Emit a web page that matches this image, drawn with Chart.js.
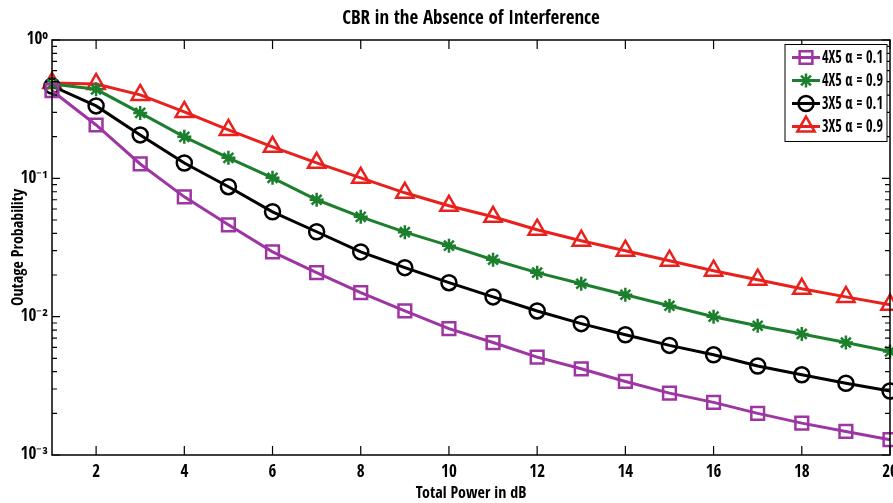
<!DOCTYPE html>
<html>
<head>
<meta charset="utf-8">
<script src="https://cdn.jsdelivr.net/npm/chart.js@4.4.1/dist/chart.umd.min.js"></script>
<style>
  html, body { margin: 0; padding: 0; background: #fff; }
  #wrap { width: 893px; height: 503px; }
</style>
</head>
<body>
<div id="wrap"><canvas id="chart"></canvas></div>
<script>
// values
const powerDb = [1, 2, 3, 4, 5, 6, 7, 8, 9, 10, 11, 12, 13, 14, 15, 16, 17, 18, 19, 20];
const xTicks = [2, 4, 6, 8, 10, 12, 14, 16, 18, 20];
const yTicks = [0.001, 0.01, 0.1, 1];
const yTickLabels = ['10\u207B\u00B3', '10\u207B\u00B2', '10\u207B\u00B9', '10\u2070'];

const out4x5a01 = [0.43, 0.243, 0.127, 0.0735, 0.0461, 0.0294, 0.0208, 0.0149, 0.011, 0.0082,
                   0.0065, 0.0051, 0.0042, 0.0034, 0.0028, 0.0024, 0.002, 0.0017, 0.00148, 0.00129];
const out4x5a09 = [0.48, 0.44, 0.297, 0.1995, 0.1406, 0.1008, 0.070, 0.0527, 0.0408, 0.0326,
                   0.0258, 0.0208, 0.0173, 0.0144, 0.012, 0.01, 0.0086, 0.0075, 0.0065, 0.0056];
const out3x5a01 = [0.465, 0.334, 0.206, 0.129, 0.087, 0.0573, 0.0411, 0.0294, 0.0226, 0.0176,
                   0.0139, 0.011, 0.0089, 0.0074, 0.0062, 0.0053, 0.0044, 0.0038, 0.0033, 0.0029];
const out3x5a09 = [0.489, 0.481, 0.401, 0.302, 0.224, 0.169, 0.1294, 0.1008, 0.0786, 0.0633,
                   0.0527, 0.0425, 0.0354, 0.030, 0.0254, 0.0215, 0.0185, 0.0159, 0.0139, 0.0122];

// the original uses a narrow font: take the narrowest installed one, if any really is narrow
const narrowFonts = ['Liberation Sans Narrow', 'DejaVu Sans Condensed', 'Noto Sans ExtraCondensed',
                     'Noto Sans Condensed', 'Roboto Condensed', 'Open Sans Condensed'];
const pickFont = () => {
  const c = document.createElement('canvas').getContext('2d');
  const probe = 'CBR in the Absence of Interference 0123';
  c.font = "bold 20px 'Liberation Sans'";
  const base = c.measureText(probe).width;
  let best = null, bestW = base * 0.9;
  for (const f of narrowFonts) {
    c.font = `bold 20px '${f}', monospace`;
    const wMono = c.measureText(probe).width;
    c.font = `bold 20px '${f}', serif`;
    const wSerif = c.measureText(probe).width;
    if (wMono === wSerif && wMono < bestW) { best = f; bestW = wMono; }
  }
  return best
    ? { family: `'${best}', 'Liberation Sans', sans-serif`, narrow: true }
    : { family: "'Liberation Sans', sans-serif", narrow: false };
};
const picked = pickFont();
const FONT = picked.family;
const SZ = picked.narrow ? { title: 19, axis: 16, tick: 17, legend: 17 } : { title: 16, axis: 14, tick: 14, legend: 14 };

const toPoints = (ys) => powerDb.map((x, i) => ({ x, y: ys[i] }));

const series = (label, data, color, pointStyle, radius) => ({
  label,
  data: toPoints(data),
  borderColor: color,
  backgroundColor: 'rgba(0,0,0,0)',
  pointBorderColor: color,
  pointBackgroundColor: 'rgba(0,0,0,0)',
  pointStyle,
  pointRadius: radius,
  pointBorderWidth: 2.5,
  borderWidth: 3,
  tension: 0,
  clip: false
});

// MATLAB-style box with inward ticks
const boxTicks = {
  id: 'boxTicks',
  afterDatasetsDraw(chart) {
    const { ctx, chartArea: a, scales: { x, y } } = chart;
    ctx.save();
    ctx.strokeStyle = '#000';
    ctx.lineWidth = 1.5;
    ctx.strokeRect(a.left, a.top, a.right - a.left, a.bottom - a.top);
    ctx.lineWidth = 1.2;
    ctx.beginPath();
    xTicks.forEach(v => {
      const px = x.getPixelForValue(v);
      ctx.moveTo(px, a.bottom); ctx.lineTo(px, a.bottom - 9);
      ctx.moveTo(px, a.top); ctx.lineTo(px, a.top + 9);
    });
    yTicks.forEach((d, i) => {
      for (let m = 1; m <= 9; m++) {
        const v = d * m;
        if (m > 1 && i === yTicks.length - 1) continue;
        const py = y.getPixelForValue(v);
        const len = m === 1 ? 8 : 5;
        ctx.moveTo(a.left, py); ctx.lineTo(a.left + len, py);
        ctx.moveTo(a.right, py); ctx.lineTo(a.right - len, py);
      }
    });
    ctx.stroke();
    ctx.restore();
  }
};

// boxed legend in the upper right, line + marker samples
const boxLegend = {
  id: 'boxLegend',
  afterDraw(chart) {
    const { ctx, chartArea: a } = chart;
    const w = 102, h = 97, rowH = 23;
    const left = a.right - 3 - w, top = a.top + 4.5;
    ctx.save();
    ctx.fillStyle = '#fff';
    ctx.fillRect(left, top, w, h);
    ctx.strokeStyle = '#000';
    ctx.lineWidth = 1;
    ctx.strokeRect(left, top, w, h);
    chart.data.datasets.forEach((ds, i) => {
      const cy = top + 13 + i * rowH;
      ctx.strokeStyle = ds.borderColor;
      ctx.lineWidth = 3;
      ctx.beginPath();
      ctx.moveTo(left + 7, cy); ctx.lineTo(left + 35, cy);
      ctx.stroke();
      ctx.lineWidth = 2.5;
      ctx.fillStyle = 'rgba(0,0,0,0)';
      Chart.helpers.drawPoint(ctx, {
        pointStyle: ds.pointStyle, radius: ds.pointRadius, borderWidth: 2.5, rotation: 0
      }, left + 21, cy);
      ctx.fillStyle = '#000';
      ctx.font = SZ.legend + 'px ' + FONT;
      ctx.textBaseline = 'middle';
      ctx.textAlign = 'left';
      ctx.fillText(ds.label, left + 37, cy + 1, w - 41);
    });
    ctx.restore();
  }
};

new Chart(document.getElementById('chart'), {
  type: 'line',
  data: {
    datasets: [
      series('4X5 \u03B1 = 0.1', out4x5a01, '#9d35a3', 'rect', 9),
      series('4X5 \u03B1 = 0.9', out4x5a09, '#1b7f2d', 'star', 7),
      series('3X5 \u03B1 = 0.1', out3x5a01, '#000000', 'circle', 7.5),
      series('3X5 \u03B1 = 0.9', out3x5a09, '#e8211d', 'triangle', 10)
    ]
  },
  options: {
    responsive: true,
    maintainAspectRatio: false,
    animation: false,
    layout: { autoPadding: false, padding: { left: 0, right: 3, top: 0, bottom: 0 } },
    plugins: {
      legend: { display: false },
      tooltip: { enabled: false },
      title: {
        display: true,
        fullSize: false,
        text: 'CBR in the Absence of Interference',
        color: '#000',
        font: { family: FONT, size: SZ.title, weight: 'bold', lineHeight: 1.2 },
        padding: { top: 40 - 1.2 * SZ.title - 10, bottom: 10 }
      }
    },
    scales: {
      x: {
        type: 'linear',
        min: 1,
        max: 20,
        afterBuildTicks: (s) => { s.ticks = xTicks.map(v => ({ value: v })); },
        afterFit: (s) => { s.height = 48; s.paddingLeft = 0; s.paddingRight = 0; },
        grid: { display: false, drawTicks: false },
        border: { display: false },
        ticks: {
          color: '#000', padding: 7, maxRotation: 0, autoSkip: false,
          font: { family: FONT, size: SZ.tick }
        },
        title: {
          display: true, text: 'Total Power in dB', color: '#000',
          font: { family: FONT, size: SZ.axis, weight: 'bold', lineHeight: 1.2 },
          padding: { top: 0, bottom: 0 }
        }
      },
      y: {
        type: 'logarithmic',
        min: 0.001,
        max: 1,
        afterBuildTicks: (s) => { s.ticks = yTicks.map(v => ({ value: v })); },
        afterFit: (s) => { s.width = 52; },
        grid: { display: false, drawTicks: false },
        border: { display: false },
        ticks: {
          color: '#000', padding: 4, autoSkip: false,
          font: { family: FONT, size: SZ.tick },
          callback: (v) => yTickLabels[yTicks.indexOf(v)]
        },
        title: {
          display: true, text: 'Outage Probability', color: '#000',
          font: { family: FONT, size: SZ.axis, weight: 'bold', lineHeight: 1.2 },
          padding: { top: 9, bottom: 0 }
        }
      }
    }
  },
  plugins: [boxTicks, boxLegend]
});
</script>
</body>
</html>
